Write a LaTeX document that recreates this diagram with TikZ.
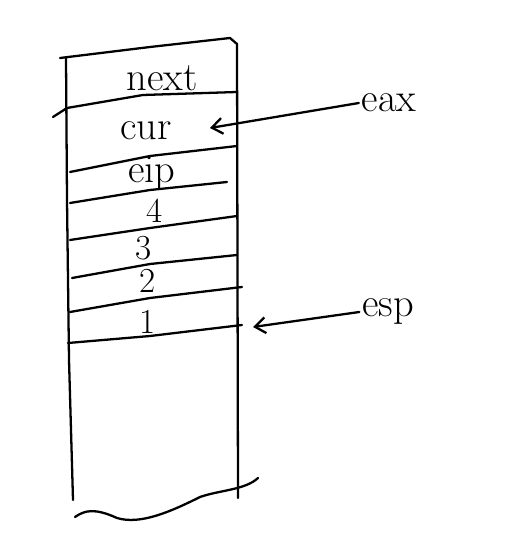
\documentclass[tikz,border=0pt]{standalone}
\usetikzlibrary{arrows.meta}
\begin{document}
\begin{tikzpicture}[x=0.02cm,y=-0.02cm,line width=1.3pt,line cap=round,line join=round,
  every node/.style={font=\fontsize{23}{26}\selectfont,inner sep=1pt},
  digit/.style={font=\fontsize{20}{22}\selectfont},
  ptr/.style={-{Straight Barb[length=6pt,width=9pt]}}]
  \useasboundingbox (0,0) rectangle (525,543);
  % stack outline
  \draw (60,58) -- (150,47) -- (230,38) -- (237,44) -- (238,498);
  \draw (66,58) -- (67,200) -- (69,360) -- (73,500);
  \draw (75,517) .. controls (85,510) and (95,508) .. (117,518) .. controls (140,525) and (170,512) .. (200,497) .. controls (220,490) and (245,490) .. (258,478);
  % slot lines
  \draw (53,117) -- (67,108) -- (143,95) -- (237,92);
  \draw (70,172) -- (150,156) -- (237,146);
  \draw (70,203) -- (150,190) -- (227,182);
  \draw (70,240) -- (150,228) -- (237,216);
  \draw (72,278) -- (150,264) -- (237,255);
  \draw (70,312) -- (150,298) -- (242,287);
  \draw (68,343) -- (150,336) -- (242,325);
  % slot labels
  \path (162,78) node (next) {next} (146,131) node (cur) {cur}
    (152,173) node (eip) {eip};
  \path (155,211) node[digit] (four) {4}
    (144,248) node[digit] (three) {3} (148,281) node[digit] (two) {2}
    (148,322) node[digit] (one) {1};
  % registers
  \path (389,103) node (eax) {eax} (388,312) node (esp) {esp};
  \coordinate (eaxto) at (210,128);
  \coordinate (espto) at (253,327);
  \draw[ptr] (eax.west) -- (eaxto);
  \draw[ptr] (esp.west) -- (espto);
\end{tikzpicture}
\end{document}
